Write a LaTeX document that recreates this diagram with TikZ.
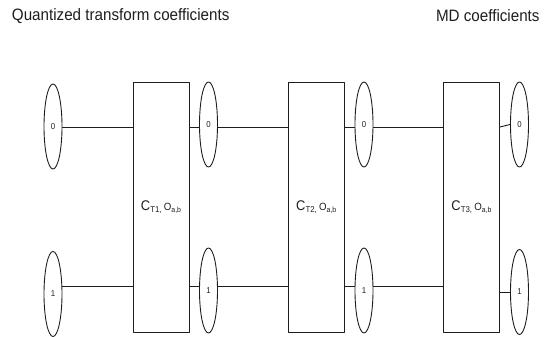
\documentclass[tikz,border=0pt]{standalone}
\usepackage{fontspec}
\setmainfont{Liberation Sans}[FakeStretch=0.92]
\usepackage{xcolor}
\usepackage{tikz}
\usetikzlibrary{shapes.geometric}
\definecolor{ink}{HTML}{1E1E1E}
\newcommand{\sbx}[2]{\raisebox{-2.5pt}{\fontsize{#1}{#1}\selectfont #2}}
\tikzset{fig/.style={line join=round,line width=0.9pt,draw=ink,text=ink},
  blk/.style={draw,rectangle,minimum width=56pt,minimum height=250pt,inner sep=0pt,font=\fontsize{14}{16}\selectfont},
  bit/.style={draw,ellipse,minimum width=18pt,minimum height=85pt,inner sep=0pt,font=\fontsize{8.5}{9}\selectfont},
  ttl/.style={inner sep=0pt,font=\fontsize{16.5}{18}\selectfont}}

\begin{document}
\begin{tikzpicture}[fig,x=1pt,y=-1pt]
  \useasboundingbox(0,0)rectangle(547,337);
  \node[ttl,anchor=west](qt)at(11.5,16){Quantized transform coefficients};\node[ttl,anchor=east](md)at(540,16){MD coefficients};
  \coordinate(r0)at(0,127);\coordinate(r1)at(0,286);
  \node[bit](z0)at(53,126.5){0};\node[bit](o0)at(53,294){1};
  \foreach \i/\j/\y in {1/0/290.5,2/1/290.5,3/2/292}{
   \node[blk](b\i)at({161+(\i-1)*155.25},207){C\sbx{8.5}{T\i,}\,{\fontsize{10.5}{10}\selectfont O}\sbx{7.5}{a,b}};
   \node[bit](z\i)at({53+\i*155.5},124.5){0};\node[bit](o\i)at({53+\i*155.5},\y){1};
   \draw(z\j.east|-r0)--(b\i.west|-r0);\draw(o\j.east|-r1)--(b\i.west|-r1);}
  \foreach \i in {1,2}{\draw(b\i.east|-r0)--(z\i.west|-r0);\draw(b\i.east|-r1)--(o\i.west|-r1);}
  \draw(b3.east|-r0)--(z3.west);\draw(o3.west-|b3.east)--(o3.west);
\end{tikzpicture}
\end{document}
